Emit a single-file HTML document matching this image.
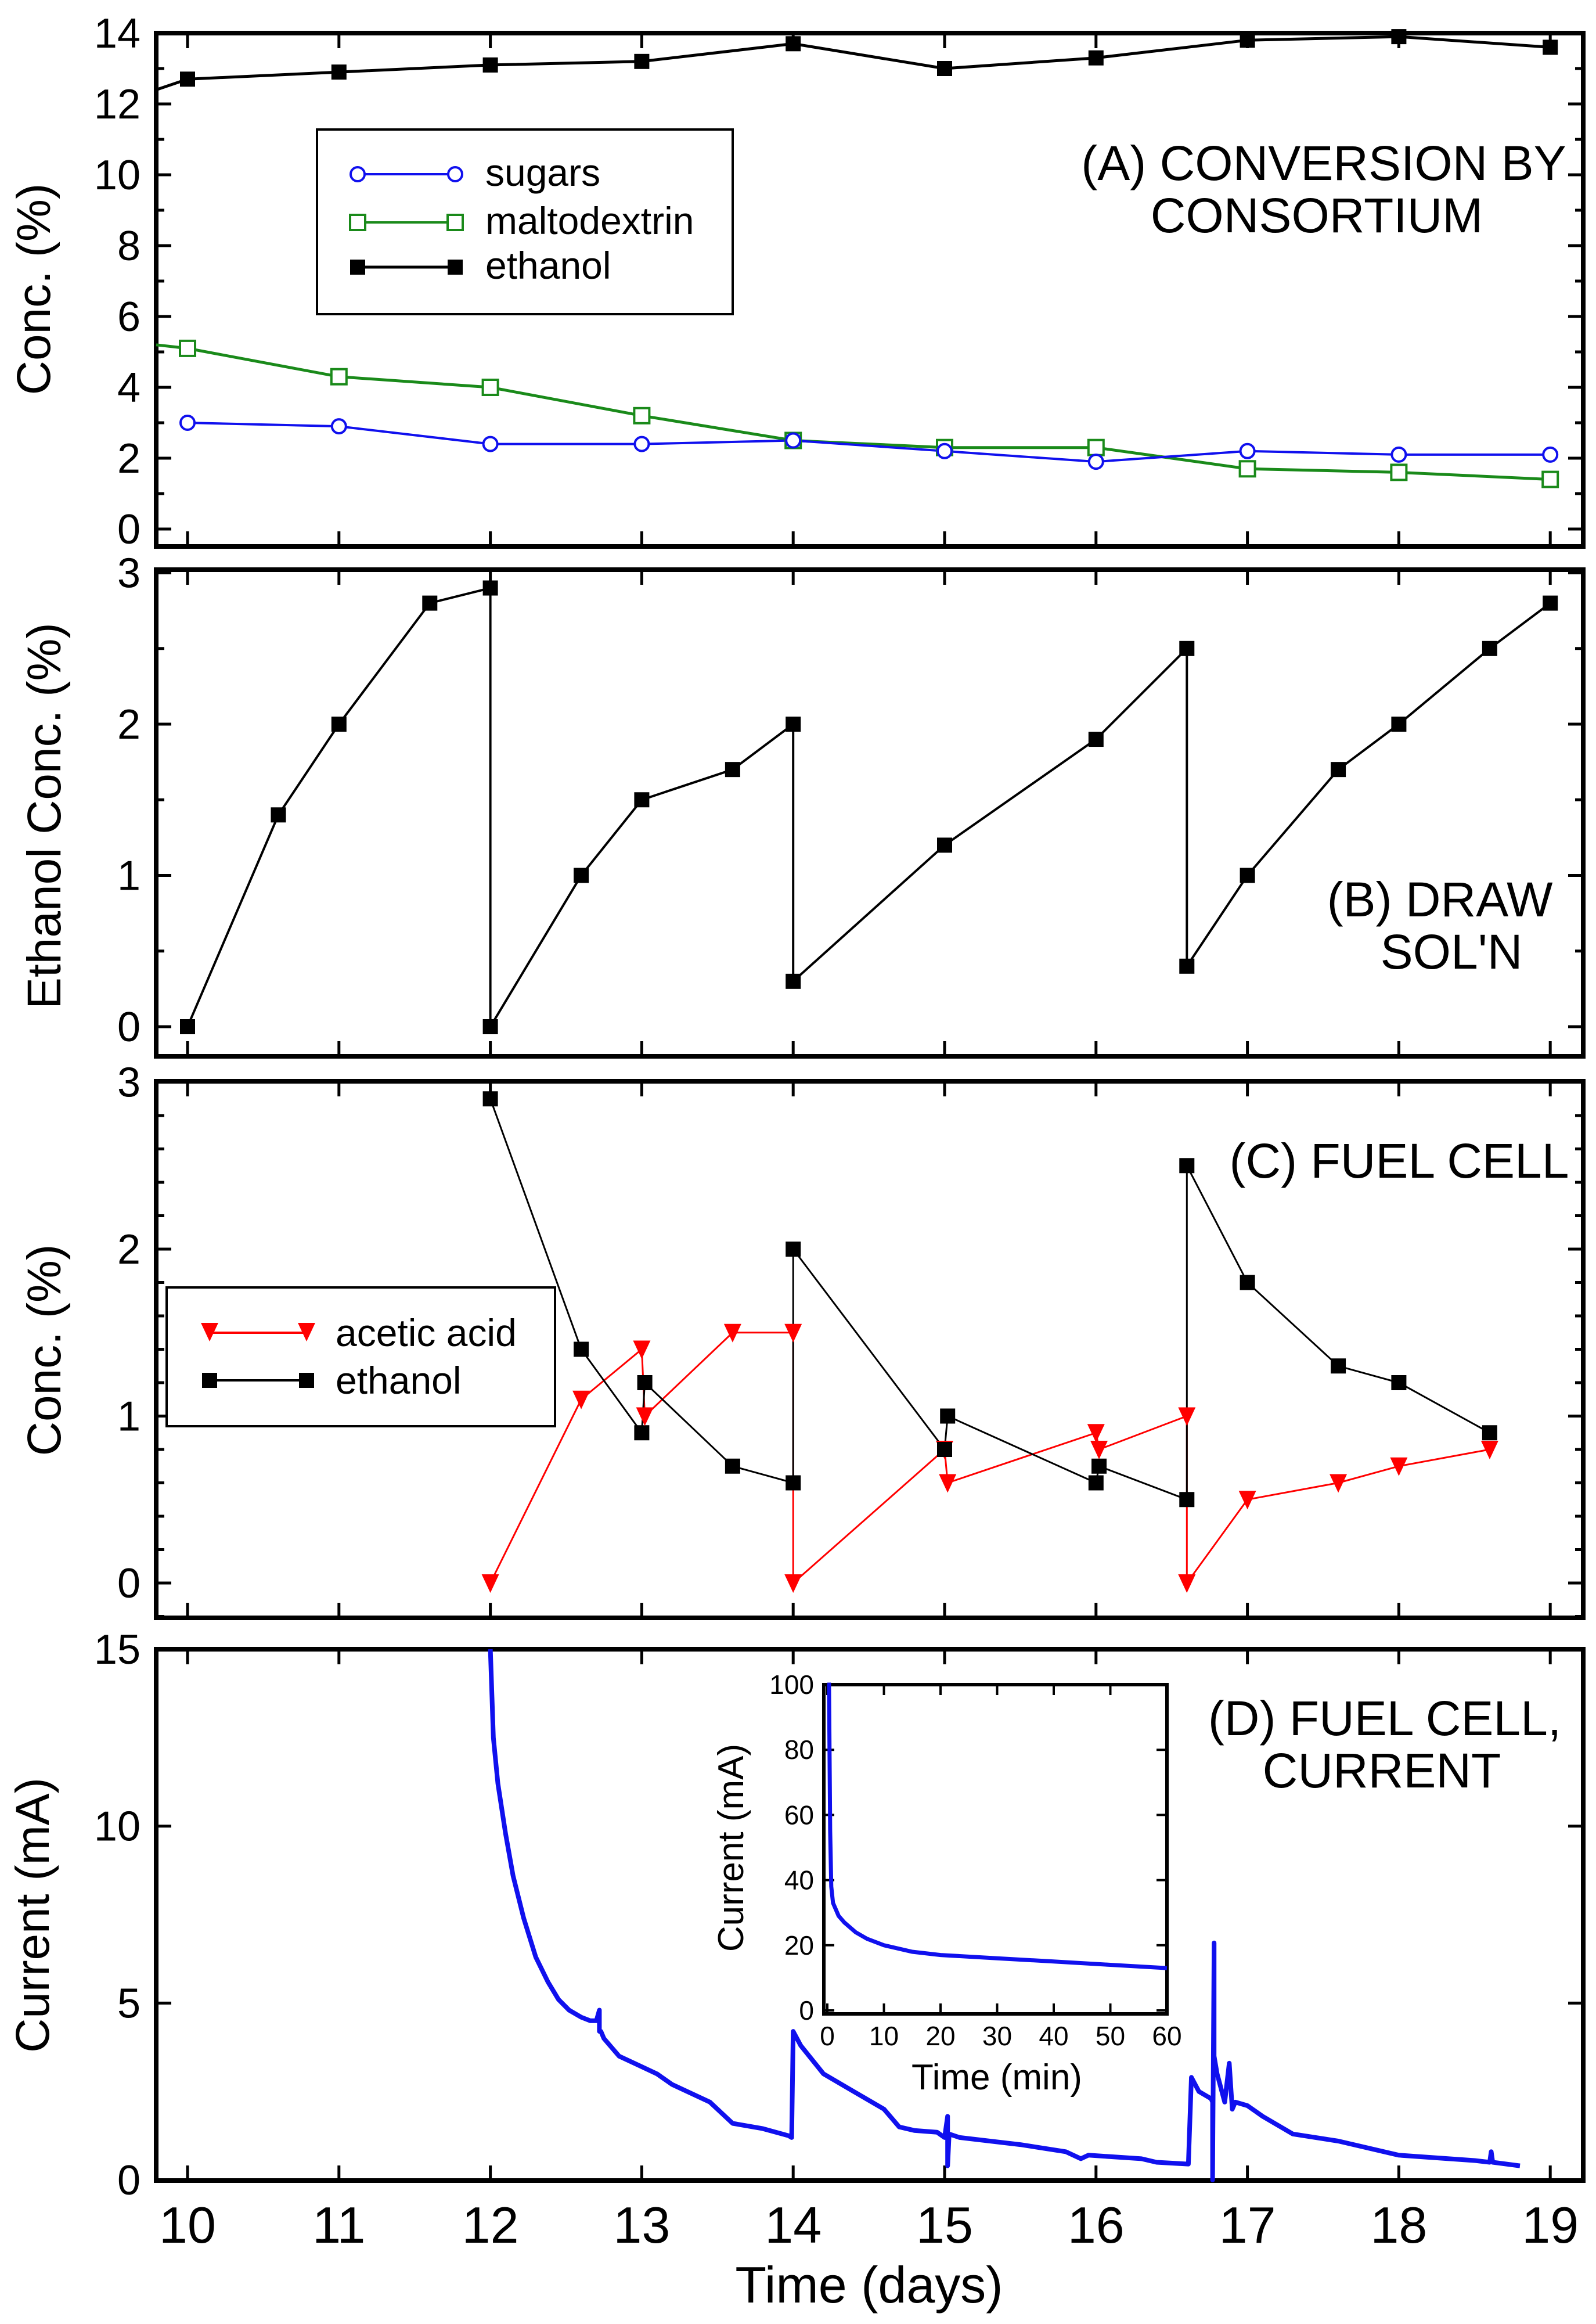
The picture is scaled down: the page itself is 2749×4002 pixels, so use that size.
<!DOCTYPE html>
<html><head><meta charset="utf-8"><style>
html,body{margin:0;padding:0;background:#fff}
svg{display:block}
text{font-family:"Liberation Sans",sans-serif;fill:#000}
</style></head><body>
<svg id="chart" xmlns="http://www.w3.org/2000/svg" width="2749" height="4002" viewBox="0 0 2749 4002">
<rect width="2749" height="4002" fill="#fff"/>
<g id="layer"></g>
</svg>
<script>
// ---------- data ----------
const daysTicks = [10,11,12,13,14,15,16,17,18,19];
const aDays = [10,11,12,13,14,15,16,17,18,19];
const aSugars = [3.0,2.9,2.4,2.4,2.5,2.2,1.9,2.2,2.1,2.1];
const aMalto = [5.1,4.3,4.0,3.2,2.5,2.3,2.3,1.7,1.6,1.4];
const aEthanol = [12.7,12.9,13.1,13.2,13.7,13.0,13.3,13.8,13.9,13.6];
const aYTicks = [0,2,4,6,8,10,12,14];
const bDays = [10,10.6,11,11.6,12,12,12.6,13,13.6,14,14,15,16,16.6,16.6,17,17.6,18,18.6,19];
const bEthanol = [0,1.4,2.0,2.8,2.9,0,1.0,1.5,1.7,2.0,0.3,1.2,1.9,2.5,0.4,1.0,1.7,2.0,2.5,2.8];
const bYTicks = [0,1,2,3];
const cDays = [12,12.6,13,13.02,13.6,14,14,15,15.02,16,16.02,16.6,16.6,17,17.6,18,18.6];
const cEthanol = [2.9,1.4,0.9,1.2,0.7,0.6,2.0,0.8,1.0,0.6,0.7,0.5,2.5,1.8,1.3,1.2,0.9];
const cAcetic = [0,1.1,1.4,1.0,1.5,1.5,0,0.8,0.6,0.9,0.8,1.0,0,0.5,0.6,0.7,0.8];
const cYTicks = [0,1,2,3];
const dDays = [12.0,12.02,12.05,12.1,12.15,12.22,12.3,12.38,12.45,12.52,12.6,12.66,12.7,12.72,12.72,12.73,12.75,12.85,13.0,13.1,13.2,13.45,13.6,13.8,13.97,13.99,14.0,14.05,14.2,14.4,14.6,14.7,14.8,14.95,15.0,15.02,15.02,15.03,15.1,15.5,15.8,15.9,15.95,16.3,16.4,16.61,16.63,16.68,16.76,16.77,16.77,16.78,16.78,16.8,16.85,16.88,16.9,16.92,17.0,17.1,17.3,17.6,18.0,18.5,18.6,18.61,18.62,18.8];
const dCurrent = [15,12.5,11.2,9.8,8.6,7.4,6.3,5.6,5.1,4.8,4.6,4.5,4.5,4.8,4.2,4.2,4.0,3.5,3.2,3.0,2.7,2.2,1.6,1.45,1.25,1.2,4.2,3.8,3.0,2.5,2.0,1.5,1.4,1.35,1.2,1.8,0.4,1.3,1.2,1.0,0.8,0.6,0.7,0.6,0.5,0.45,2.9,2.5,2.3,2.2,0,6.7,3.5,3.0,2.2,3.3,2.0,2.2,2.1,1.8,1.3,1.1,0.7,0.55,0.5,0.8,0.5,0.4];
const dYTicks = [0,5,10,15];
const insetMin = [0,0.3,0.5,0.7,1,2,3,5,7,10,15,20,30,40,50,60];
const insetCurrent = [100,100,55,38,33,29,27,24,22,20,18,17,16,15,14,13];
const insetXTicks = [0,10,20,30,40,50,60];
const insetYTicks = [0,20,40,60,80,100];

// ---------- helpers ----------
const NS = "http://www.w3.org/2000/svg";
const layer = document.getElementById('layer');
function el(tag, attrs, parent){ const e=document.createElementNS(NS,tag); for(const k in attrs) e.setAttribute(k,attrs[k]); (parent||layer).appendChild(e); return e; }
const X0=269, X1=2727;
const xScale = d => 323 + (d-10)*260.8;
function mkY(v0,p0,v1,p1){ return v => p0 + (v-v0)*(p1-p0)/(v1-v0); }

function frame(name, top, bottom, yScale, yticks, minorStep, ymin, ymax, showX){
  const g = el('g',{});
  
  
  el('rect',{x:X0,y:top,width:X1-X0,height:bottom-top,fill:'none',stroke:'#000','stroke-width':8},g);
  daysTicks.forEach(d=>{
    const x=xScale(d);
    el('line',{x1:x,x2:x,y1:bottom,y2:bottom-26,stroke:'#000','stroke-width':5},g);
    el('line',{x1:x,x2:x,y1:top,y2:top+26,stroke:'#000','stroke-width':5},g);
  });
  for(let v=Math.ceil(ymin/minorStep)*minorStep; v<=ymax+1e-9; v+=minorStep){
    const y=yScale(v); const major = yticks.some(t=>Math.abs(t-v)<1e-6);
    const L = major?26:14;
    el('line',{x1:X0,x2:X0+L,y1:y,y2:y,stroke:'#000','stroke-width':5},g);
    el('line',{x1:X1,x2:X1-L,y1:y,y2:y,stroke:'#000','stroke-width':5},g);
  }
  yticks.forEach(t=>{
    const tx = el('text',{x:242,y:yScale(t)+25,'text-anchor':'end','font-size':72},g);
    tx.textContent = t;
    
    
  });
  return g;
}
function pathFrom(xs, ys, xf, yf){ return xs.map((d,i)=>(i?'L':'M')+xf(d).toFixed(1)+','+yf(ys[i]).toFixed(1)).join(' '); }
function square(x,y,c,g){ const r=el('rect',{x:x-13,y:y-13,width:26,height:26,fill:c},g); return r; }
function circle(x,y,c,g){ return el('circle',{cx:x,cy:y,r:12,fill:'#fff',stroke:c,'stroke-width':4},g); }
function osq(x,y,c,g){ return el('rect',{x:x-13,y:y-13,width:26,height:26,fill:'#fff',stroke:c,'stroke-width':4},g); }
function tri(x,y,c,g){ return el('polygon',{points:`${x-15},${y-15} ${x+15},${y-15} ${x},${y+17}`,fill:c},g); }
function label(x,y,txt,size,g,anchor,name){ const t=el('text',{x:x,y:y,'font-size':size,'text-anchor':anchor||'start'},g); t.textContent=txt;   return t; }
function vlabel(cx,cy,txt,size,name){ const t=el('text',{x:0,y:0,'font-size':size,'text-anchor':'middle',transform:`translate(${cx},${cy}) rotate(-90)`}); t.textContent=txt;   return t; }

// ---------- Panel A ----------
const yA = mkY(0,911,14,57);
const gA = frame('panel-a', 57, 941, yA, aYTicks, 1, -0.5, 14, false);
const sA = el('g',{},gA);
el('path',{d:'M'+X0+','+yA(12.4)+' L'+pathFrom(aDays,aEthanol,xScale,yA).slice(1),fill:'none',stroke:'#000','stroke-width':5},sA);
el('path',{d:'M'+X0+','+yA(5.2)+' L'+pathFrom(aDays,aMalto,xScale,yA).slice(1),fill:'none',stroke:'#1a8a1a','stroke-width':5},sA);
el('path',{d:pathFrom(aDays,aSugars,xScale,yA),fill:'none',stroke:'#1010ee','stroke-width':4},sA);
aDays.forEach((d,i)=>{
  const m1=square(xScale(d),yA(aEthanol[i]),'#000',sA);
  
  
  const m2=osq(xScale(d),yA(aMalto[i]),'#1a8a1a',sA);
  
  
  const m3=circle(xScale(d),yA(aSugars[i]),'#1010ee',sA);
  
  
});
// legend A
const lgA = el('g',{},gA);


el('rect',{x:546,y:223,width:716,height:318,fill:'#fff',stroke:'#000','stroke-width':4},lgA);
el('line',{x1:616,x2:784,y1:300,y2:300,stroke:'#1010ee','stroke-width':4},lgA); circle(616,300,'#1010ee',lgA); circle(784,300,'#1010ee',lgA);
label(836,320,'sugars',66,lgA,'start','legend-sugars');
el('line',{x1:616,x2:784,y1:383,y2:383,stroke:'#1a8a1a','stroke-width':4},lgA); osq(616,383,'#1a8a1a',lgA); osq(784,383,'#1a8a1a',lgA);
label(836,403,'maltodextrin',66,lgA,'start','legend-maltodextrin');
el('line',{x1:616,x2:784,y1:460,y2:460,stroke:'#000','stroke-width':5},lgA); square(616,460,'#000',lgA); square(784,460,'#000',lgA);
label(836,480,'ethanol',66,lgA,'start','legend-ethanol');
label(2280,310,'(A) CONVERSION BY',84,gA,'middle','panel-a-title');
label(2268,400,'CONSORTIUM',84,gA,'middle','panel-a-title-2');
vlabel(86,498,'Conc. (%)',82,'y-axis-title-a');

// ---------- Panel B ----------
const yB = mkY(0,1768,2,1247);
const gB = frame('panel-b', 981, 1819, yB, bYTicks, 0.5, -0.2, 3, false);
el('path',{d:pathFrom(bDays,bEthanol,xScale,yB),fill:'none',stroke:'#000','stroke-width':4},gB);
bDays.forEach((d,i)=>{ const m=square(xScale(d),yB(bEthanol[i]),'#000',gB);
  
   });
label(2480,1578,'(B) DRAW',84,gB,'middle','panel-b-title');
label(2500,1668,"SOL'N",84,gB,'middle','panel-b-title-2');
vlabel(104,1405,'Ethanol Conc. (%)',82,'y-axis-title-b');

// ---------- Panel C ----------
const yC = mkY(0,2726,2,2151);
const gC = frame('panel-c', 1862, 2786, yC, cYTicks, 0.2, -0.2, 3, false);
el('path',{d:pathFrom(cDays,cAcetic,xScale,yC),fill:'none',stroke:'#ff0000','stroke-width':3},gC);
el('path',{d:pathFrom(cDays,cEthanol,xScale,yC),fill:'none',stroke:'#000','stroke-width':3},gC);
cDays.forEach((d,i)=>{
  const m=tri(xScale(d),yC(cAcetic[i]),'#ff0000',gC);
  
  
  const n=square(xScale(d),yC(cEthanol[i]),'#000',gC);
  
  
});
const lgC = el('g',{},gC);


el('rect',{x:287,y:2217,width:669,height:239,fill:'#fff',stroke:'#000','stroke-width':4},lgC);
el('line',{x1:361,x2:528,y1:2295,y2:2295,stroke:'#ff0000','stroke-width':4},lgC); tri(361,2293,'#ff0000',lgC); tri(528,2293,'#ff0000',lgC);
label(578,2318,'acetic acid',66,lgC,'start','legend-acetic-acid');
el('line',{x1:361,x2:528,y1:2377,y2:2377,stroke:'#000','stroke-width':4},lgC); square(361,2377,'#000',lgC); square(528,2377,'#000',lgC);
label(578,2400,'ethanol',66,lgC,'start','legend-ethanol-c');
label(2410,2028,'(C) FUEL CELL',84,gC,'middle','panel-c-title');
vlabel(104,2325,'Conc. (%)',82,'y-axis-title-c');

// ---------- Panel D ----------
const yD = mkY(0,3754,15,2840);
const gD = frame('panel-d', 2840, 3755, yD, dYTicks, 5, 0, 15, true);
el('path',{d:pathFrom(dDays,dCurrent,xScale,yD),fill:'none',stroke:'#1010ee','stroke-width':8,'stroke-linejoin':'round'},gD);
daysTicks.forEach(d=>{ const t=label(xScale(d),3862,String(d),88,gD,'middle','x-tick-label'); });
label(1497,3965,'Time (days)',88,gD,'middle','x-axis-title');
label(2385,2988,'(D) FUEL CELL,',84,gD,'middle','panel-d-title');
label(2380,3078,'CURRENT',84,gD,'middle','panel-d-title-2');
vlabel(84,3298,'Current (mA)',82,'y-axis-title-d');

// ---------- Inset ----------
const gI = el('g',{});


const iL=1419,iR=2010,iT=2901,iB=3468;
const xI = v => iL+6 + v*(iR-iL-6)/60;
const yI = v => iB-6 - v*(iB-iT-6)/100;
el('rect',{x:iL,y:iT,width:iR-iL,height:iB-iT,fill:'#fff',stroke:'#000','stroke-width':6},gI);
insetXTicks.forEach(t=>{ const x=xI(t);
  el('line',{x1:x,x2:x,y1:iB,y2:iB-18,stroke:'#000','stroke-width':4},gI);
  el('line',{x1:x,x2:x,y1:iT,y2:iT+18,stroke:'#000','stroke-width':4},gI);
  label(x,3522,String(t),46,gI,'middle','inset-x-tick-label'); });
insetYTicks.forEach(t=>{ const y=yI(t);
  el('line',{x1:iL,x2:iL+18,y1:y,y2:y,stroke:'#000','stroke-width':4},gI);
  el('line',{x1:iR,x2:iR-18,y1:y,y2:y,stroke:'#000','stroke-width':4},gI);
  label(1402,y+16,String(t),46,gI,'end','inset-y-tick-label'); });
el('path',{d:pathFrom(insetMin,insetCurrent,xI,yI),fill:'none',stroke:'#1010ee','stroke-width':7},gI);
label(1717,3598,'Time (min)',62,gI,'middle','inset-x-axis-title');
const it=el('text',{x:0,y:0,'font-size':62,'text-anchor':'middle',transform:'translate(1280,3182) rotate(-90)'},gI); it.textContent='Current (mA)';


</script>
</body></html>
